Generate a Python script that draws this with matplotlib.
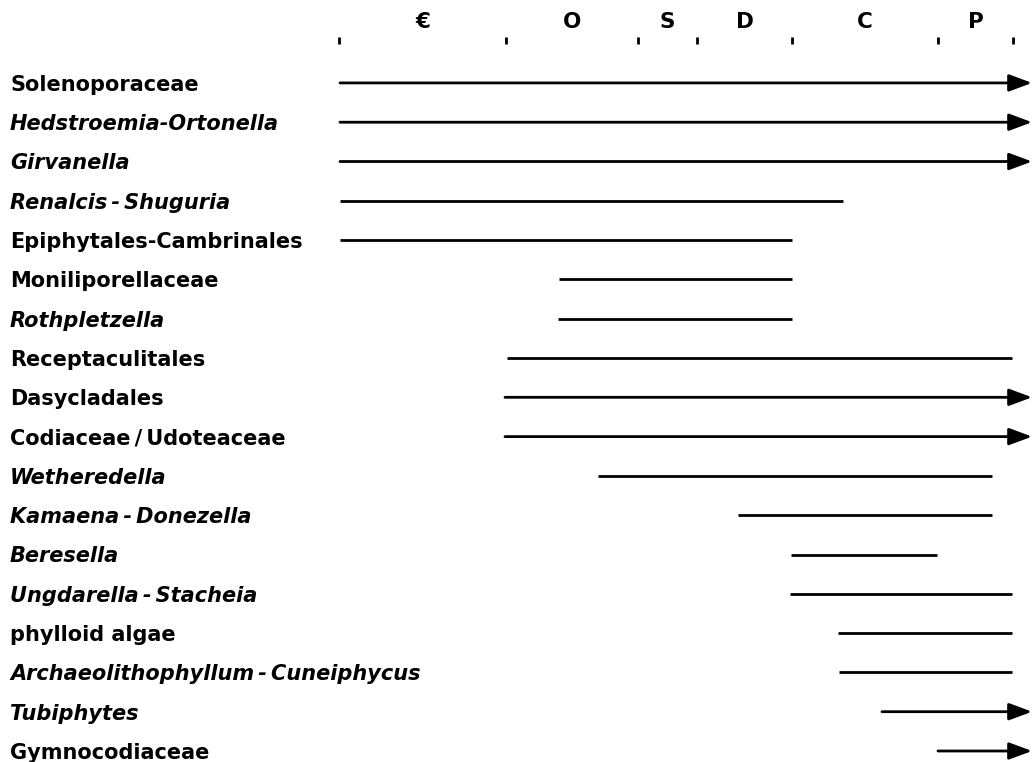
import matplotlib
matplotlib.use("Agg")
import matplotlib.pyplot as plt
from matplotlib.patches import FancyArrowPatch

# Relative time scale (units along the chart; Cambrian base = 0)
periods = ["€", "O", "S", "D", "C", "P"]
boundaries = [0, 167, 299, 358, 453, 599, 674]

T = "\u2009"  # thin space, as in the typeset original
taxa = [
    "Solenoporaceae",
    "Hedstroemia-Ortonella",
    "Girvanella",
    f"Renalcis{T}-{T}Shuguria",
    "Epiphytales-Cambrinales",
    "Moniliporellaceae",
    "Rothpletzella",
    "Receptaculitales",
    "Dasycladales",
    f"Codiaceae{T}/{T}Udoteaceae",
    "Wetheredella",
    f"Kamaena{T}-{T}Donezella",
    "Beresella",
    f"Ungdarella{T}-{T}Stacheia",
    "phylloid algae",
    f"Archaeolithophyllum{T}-{T}Cuneiphycus",
    "Tubiphytes",
    "Gymnocodiaceae",
]
italic = [False, True, True, True, False, False, True, False, False, False,
          True, True, True, True, False, True, True, False]
range_start = [1, 1, 1, 1, 1, 220, 219, 168, 166, 166,
               259, 399, 452, 451, 499, 500, 543, 599]
range_end = [None, None, None, 504, 453, 453, 453, 673, None, None,
             653, 653, 598, 673, 673, 673, None, None]  # None = continues (arrow)

X_MIN, X_MAX = -339, 693
Y_TOP, Y_BOT = -2.11, 17.28

fig = plt.figure(figsize=(10.32, 7.62), dpi=100)
ax = fig.add_axes([0, 0, 1, 1])
ax.set_xlim(X_MIN, X_MAX)
ax.set_ylim(Y_BOT, Y_TOP)
ax.axis("off")

# period boundary ticks and labels
ax.vlines(boundaries, -1.17, -0.99, color="black", lw=2.0)
for i, p in enumerate(periods):
    xc = (boundaries[i] + boundaries[i + 1]) / 2
    ax.text(xc, -1.55, p, ha="center", va="center", fontsize=15.5,
            fontweight="bold", color="black")

lw = 2.0
for i, name in enumerate(taxa):
    ax.text(X_MIN + 10, i + 0.2, name, ha="left", va="baseline", fontsize=15,
            fontweight="bold", style="italic" if italic[i] else "normal",
            color="black")
    x0 = range_start[i]
    if range_end[i] is None:
        arr = FancyArrowPatch((x0, i), (X_MAX, i),
                              arrowstyle="-|>,head_length=14,head_width=5.2",
                              mutation_scale=1, lw=lw, color="black",
                              shrinkA=0, shrinkB=0)
        ax.add_patch(arr)
    else:
        ax.plot([x0, range_end[i]], [i, i], color="black", lw=lw,
                solid_capstyle="butt")

fig.savefig("out.png", dpi=100)
